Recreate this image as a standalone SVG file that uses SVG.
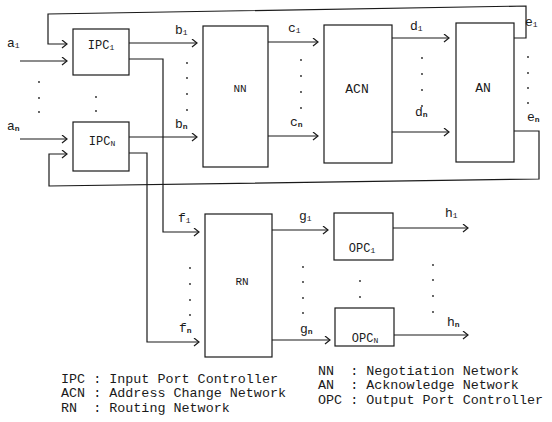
<svg xmlns="http://www.w3.org/2000/svg" width="552" height="422" viewBox="0 0 552 422">
<style>
 .bx{fill:#fff;stroke:#1a1a1a;stroke-width:1.2}
 .w{fill:none;stroke:#1a1a1a;stroke-width:1.2}
 .a{marker-end:url(#arr)}
 text{font-family:"Liberation Mono","DejaVu Sans Mono",monospace;fill:#1a1a1a}
 .nl{font-size:12px;text-anchor:middle}
 .cl{font-size:13px}
 .sb{font-size:8px}
 .sn{font-size:8px;font-weight:bold}
 .lg{font-size:13.4px;white-space:pre}
 .d{fill:#222}
</style>
<defs>
 <marker id="arr" markerWidth="8" markerHeight="10" viewBox="0 0 8 10" refX="6" refY="4" orient="auto" markerUnits="userSpaceOnUse">
  <path d="M1,0 L6,4 L1,8" fill="none" stroke="#1a1a1a" stroke-width="1.2"/>
 </marker>
</defs>
<rect width="552" height="422" fill="#fff"/>

<g id="connectors">
 <polyline class="w a" points="514,38 526,38 526,6 48,14 48,44 67,44"/>
 <polyline class="w a" points="20,61 67,61"/>
 <polyline class="w a" points="20,139 67,139"/>
 <polyline class="w a" points="514,131 539,131 539,179 49,186 49,154 67,154"/>
 <polyline class="w a" points="129,43 197,43"/>
 <polyline class="w a" points="129,137 197,137"/>
 <polyline class="w a" points="129,59 163,59 163,232 199,232"/>
 <polyline class="w a" points="129,153 147,153 147,342 199,342"/>
 <polyline class="w a" points="268,42 318,42"/>
 <polyline class="w a" points="268,136 318,136"/>
 <polyline class="w a" points="392,38 449,38"/>
 <polyline class="w a" points="392,132 449,132"/>
 <polyline class="w a" points="271,230 328,230"/>
 <polyline class="w a" points="272,340 330,340"/>
 <polyline class="w a" points="393,228 468,228"/>
 <polyline class="w a" points="394,335 468,335"/>
</g>

<g id="IPC1"><rect class="bx" x="73" y="29" width="56" height="46"/><text class="nl" x="101" y="49">IPC<tspan class="sb" dy="1">1</tspan></text></g>
<g id="IPCN"><rect class="bx" x="73" y="122" width="56" height="49"/><text class="nl" x="102" y="145">IPC<tspan class="sb" dy="1">N</tspan></text></g>
<g id="NN"><rect class="bx" x="203" y="26" width="65" height="141"/><text class="nl" x="240" y="92" style="font-size:11px">NN</text></g>
<g id="ACN"><rect class="bx" x="324" y="25" width="68" height="138"/><text class="nl" x="357" y="93" style="font-size:13px">ACN</text></g>
<g id="AN"><rect class="bx" x="456" y="23" width="58" height="139"/><text class="nl" x="483" y="92" style="font-size:13px">AN</text></g>
<g id="RN"><rect class="bx" x="205" y="214" width="67" height="143"/><text class="nl" x="242" y="285" style="font-size:11px">RN</text></g>
<g id="OPC1"><rect class="bx" x="334" y="213" width="59" height="47"/><text class="nl" x="362" y="252">OPC<tspan class="sb" dy="1">1</tspan></text></g>
<g id="OPCN"><rect class="bx" x="335" y="308" width="59" height="38"/><text class="nl" x="365" y="342">OPC<tspan class="sb" dy="1">N</tspan></text></g>

<g id="connector-labels">
 <text class="cl" x="7" y="47">a<tspan class="sb" dy="1">1</tspan></text>
 <text class="cl" x="7" y="130">a<tspan class="sn" dy="1">n</tspan></text>
 <text class="cl" x="175" y="34">b<tspan class="sb" dy="1">1</tspan></text>
 <text class="cl" x="175" y="128">b<tspan class="sn" dy="1">n</tspan></text>
 <text class="cl" x="288" y="32">c<tspan class="sb" dy="1">1</tspan></text>
 <text class="cl" x="290" y="126">c<tspan class="sn" dy="1">n</tspan></text>
 <text class="cl" x="410" y="30">d<tspan class="sb" dy="1">1</tspan></text>
 <text class="cl" x="415" y="116">d<tspan class="sn" dy="1">n</tspan></text>
 <text class="cl" x="525" y="26">e<tspan class="sb" dy="1">1</tspan></text>
 <text class="cl" x="527" y="121">e<tspan class="sn" dy="1">n</tspan></text>
 <text class="cl" x="178" y="222">f<tspan class="sb" dy="1">1</tspan></text>
 <text class="cl" x="179" y="332">f<tspan class="sn" dy="1">n</tspan></text>
 <text class="cl" x="299" y="220">g<tspan class="sb" dy="1">1</tspan></text>
 <text class="cl" x="300" y="333">g<tspan class="sn" dy="1">n</tspan></text>
 <text class="cl" x="445" y="217">h<tspan class="sb" dy="1">1</tspan></text>
 <text class="cl" x="447" y="326">h<tspan class="sn" dy="1">n</tspan></text>
</g>

<g id="ellipses" class="d">
 <circle cx="39" cy="82" r="0.9"/><circle cx="39" cy="98" r="0.9"/><circle cx="39" cy="112" r="0.9"/>
 <circle cx="96" cy="97" r="0.9"/><circle cx="96" cy="111" r="0.9"/>
 <circle cx="187" cy="63" r="0.9"/><circle cx="187" cy="78" r="0.9"/><circle cx="187" cy="94" r="0.9"/><circle cx="187" cy="110" r="0.9"/>
 <circle cx="301" cy="60" r="0.9"/><circle cx="301" cy="76" r="0.9"/><circle cx="301" cy="92" r="0.9"/><circle cx="301" cy="108" r="0.9"/>
 <circle cx="422" cy="58" r="0.9"/><circle cx="422" cy="74" r="0.9"/><circle cx="422" cy="90" r="0.9"/><circle cx="422" cy="106" r="0.9"/>
 <circle cx="528" cy="57" r="0.9"/><circle cx="528" cy="73" r="0.9"/><circle cx="528" cy="88" r="0.9"/><circle cx="528" cy="103" r="0.9"/>
 <circle cx="190" cy="268" r="0.9"/><circle cx="190" cy="284" r="0.9"/><circle cx="190" cy="300" r="0.9"/><circle cx="190" cy="315" r="0.9"/>
 <circle cx="303" cy="267" r="0.9"/><circle cx="303" cy="282" r="0.9"/><circle cx="303" cy="298" r="0.9"/><circle cx="303" cy="313" r="0.9"/>
 <circle cx="360" cy="281" r="0.9"/><circle cx="360" cy="297" r="0.9"/>
 <circle cx="433" cy="265" r="0.9"/><circle cx="433" cy="280" r="0.9"/><circle cx="433" cy="296" r="0.9"/><circle cx="433" cy="312" r="0.9"/>
</g>

<g id="legend">
 <text class="lg" xml:space="preserve" x="61" y="383">IPC : Input Port Controller</text>
 <text class="lg" xml:space="preserve" x="61" y="397">ACN : Address Change Network</text>
 <text class="lg" xml:space="preserve" x="61" y="412">RN  : Routing Network</text>
 <text class="lg" xml:space="preserve" x="318" y="375">NN  : Negotiation Network</text>
 <text class="lg" xml:space="preserve" x="318" y="389">AN  : Acknowledge Network</text>
 <text class="lg" xml:space="preserve" x="318" y="404">OPC : Output Port Controller</text>
</g>
</svg>
